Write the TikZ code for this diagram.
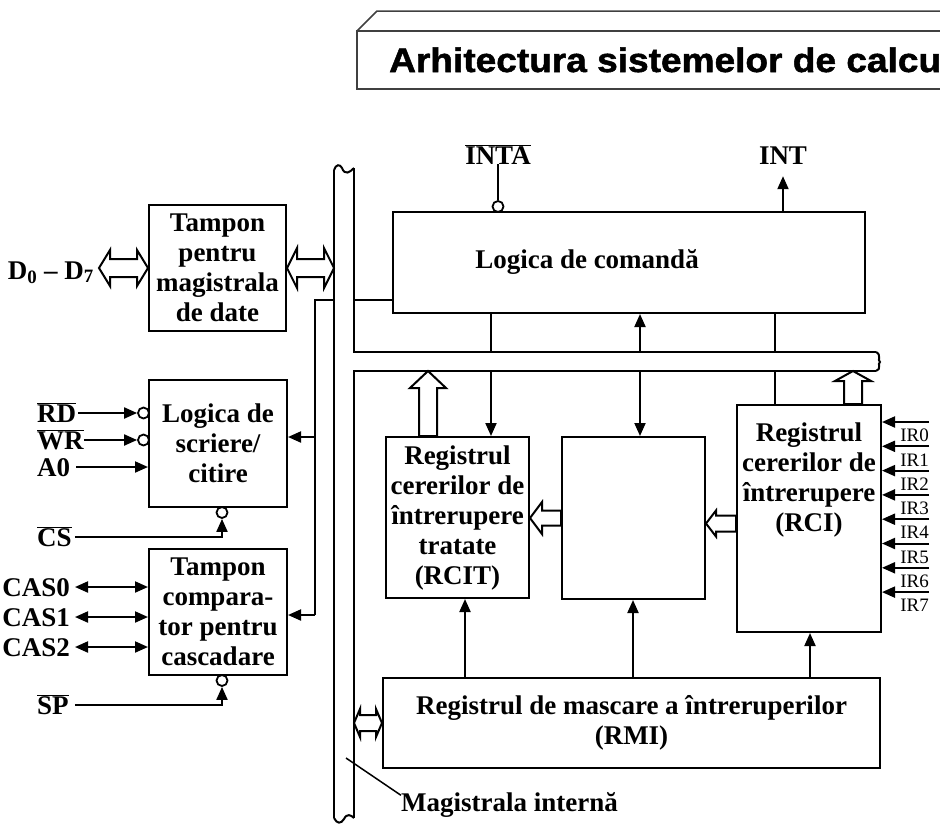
\documentclass[tikz,border=0pt]{standalone}
\usepackage{fontspec}
\setmainfont{Liberation Serif}
\newfontfamily\hdrfont[FakeStretch=1.09, FakeBold=1.5]{Liberation Sans}
\usetikzlibrary{arrows.meta, calc, positioning}

\newcommand\blkfont{\fontsize{27}{30}\selectfont\bfseries}
\newcommand\irfont{\fontsize{19}{19}\selectfont}
\newcommand\ovl[1]{$\overline{\mbox{#1}}$}

% sageti late (contur)
\newcommand\dblopen[5]{\draw[hollow] (#1) -- ($(#1)+(#5,-#4)$) -- ($(#1)+(#5,-#3)$) -- ($(#2)+(-#5,-#3)$) -- ($(#2)+(-#5,-#4)$) -- (#2)
  -- ($(#2)+(-#5,#4)$) -- ($(#2)+(-#5,#3)$) -- ($(#1)+(#5,#3)$) -- ($(#1)+(#5,#4)$) -- cycle;}
\newcommand\hollowleft[5]{\draw[hollow] (#2) -- ($(#2)+(#5,-#4)$) -- ($(#2)+(#5,-#3)$) -- ($(#1)+(0,-#3)$) -- ($(#1)+(0,#3)$)
  -- ($(#2)+(#5,#3)$) -- ($(#2)+(#5,#4)$) -- cycle;}
\newcommand\hollowup[5]{\draw[hollow] (#2) -- ($(#2)+(#4,#5)$) -- ($(#2)+(#3,#5)$) -- ($(#1)+(#3,0)$) -- ($(#1)+(-#3,0)$)
  -- ($(#2)+(-#3,#5)$) -- ($(#2)+(-#4,#5)$) -- cycle;}

\tikzset{
  blk/.style={draw, line width=2pt, inner sep=0pt, align=center, font=\blkfont},
  lbl/.style={inner sep=0pt, font=\blkfont, align=center},
  sig/.style={inner sep=0pt, font=\blkfont, text height=18pt, text depth=0pt},
  wire/.style={line width=2pt},
  tip/.style={-{Triangle[length=13pt,width=11pt]}},
  tips/.style={{Triangle[length=13pt,width=11pt]}-{Triangle[length=13pt,width=11pt]}},
  neg/.style={circle, draw, fill=white, line width=1.8pt, minimum size=11pt, inner sep=0pt},
  hollow/.style={draw, line width=2pt, line join=miter},
}

\begin{document}
\begin{tikzpicture}[x=1pt, y=-1pt]
  \useasboundingbox (0,0) rectangle (940,823);
  \clip (0,0) rectangle (940,823);

  % antet
  \draw[line width=1.5pt, black!75] (357,31) -- (377,11) -- (950,11);
  \draw[line width=1.5pt, black!75] (950,31) -- (357,31) -- (357,89) -- (950,89);
  \node[anchor=base west, inner sep=0pt, font=\hdrfont\bfseries\fontsize{34}{34}\selectfont] (titlu) at (389,72) {Arhitectura sistemelor de calcu};

  % magistrala interna
  \coordinate (busL) at (334,300);
  \coordinate (busR) at (354,300);
  \coordinate (hT) at (354,352);
  \coordinate (hB) at (354,371);
  \draw[wire] (334,170) -- (334,818);
  \draw[wire] (354,168) -- (hT) -- (876,352);
  \draw[wire] (876,371) -- (hB) -- (354,818);
  \draw[wire] (334,170) .. controls (336,164) and (340,164) .. (342,168) .. controls (345,176) and (350,172) .. (354,168);
  \draw[wire] (334,818) .. controls (337,824) and (341,824) .. (344,819) .. controls (347,813) and (351,815) .. (354,818);
  \draw[wire] (876,352) .. controls (882,355) and (877,360) .. (880,362) .. controls (877,364) and (882,369) .. (876,371);

  % blocuri
  \node[blk, minimum width=137pt, minimum height=126pt] (tpd) at (217.5,268) {Tampon\\pentru\\magistrala\\de date};
  \node[blk, minimum width=138pt, minimum height=127pt] (lsc) at (218,443.5) {Logica de\\scriere/\\citire};
  \node[blk, minimum width=138pt, minimum height=126pt] (tcc) at (218,612) {Tampon\\compara-\\tor pentru\\cascadare};
  \node[blk, minimum width=472pt, minimum height=101pt] (lcm) at (629,262.5) {};
  \node[lbl] (lcmtext) at (587,262) {Logica de comandă};
  \node[blk, minimum width=143pt, minimum height=161pt] (rcit) at (457.5,517.5) {Registrul\\cererilor de\\întrerupere\\tratate\\(RCIT)};
  \node[blk, minimum width=143pt, minimum height=162pt] (mid) at (633.5,518) {};
  \node[blk, minimum width=144pt, minimum height=227pt] (rci) at (809,518.5) {};
  \node[lbl] (rcitext) at (809,480) {Registrul\\cererilor de\\întrerupere\\(RCI)};
  \node[blk, minimum width=497pt, minimum height=90pt] (rmi) at (631.5,723) {Registrul de mascare a întreruperilor\\(RMI)};

  % semnale din stanga
  \node[sig, anchor=east] (d07) at (94,270) {D\textsubscript{0} – D\textsubscript{7}};
  \coordinate (d07a) at (99,268);
  \dblopen{d07a}{tpd.west}{9}{18}{11}
  \coordinate (tpdbus) at (tpd.east -| busL);
  \dblopen{tpd.east}{tpdbus}{9}{20}{10}

  \node[sig, anchor=west] (rd) at (37,413) {\ovl{RD}};
  \node[sig, anchor=west] (wr) at (37,440) {\ovl{WR}};
  \node[sig, anchor=west] (a0) at (37,467) {A0};
  \node[neg] (rdn) at (143.5,413) {};
  \node[neg] (wrn) at (143.5,440) {};
  \draw[wire, tip] ([xshift=2pt]rd.east) -- (rdn.west);
  \draw[wire, tip] (wr.east) -- (wrn.west);
  \draw[wire, tip] ([xshift=6pt]a0.east) -- (a0 -| lsc.west);

  \node[sig, anchor=west] (cs) at (37,537) {\ovl{CS}};
  \node[neg] (csn) at (222,512.5) {};
  \draw[wire, tip] ([xshift=3pt]cs.east) -| (csn.south);

  \foreach \k/\yy in {0/587, 1/617, 2/647}{
    \node[sig, anchor=east] (cas\k) at (70,\yy) {CAS\k};
    \draw[wire, tips] ([xshift=5pt]cas\k.east) -- (cas\k -| tcc.west);
  }

  \node[sig, anchor=west] (sp) at (37,705) {\ovl{SP}};
  \node[neg] (spn) at (222,680.5) {};
  \draw[wire, tip] ([xshift=6pt]sp.east) -| (spn.south);

  % legaturi cu magistrala
  \coordinate (tap1) at (315,300);
  \coordinate (tap2) at (315,437);
  \coordinate (tap3) at (315,615);
  \draw[wire] (busL) -- (tap1) -- (tap3);
  \draw[wire, tip] (tap2) -- (tap2 -| lsc.east);
  \draw[wire, tip] (tap3) -- (tap3 -| tcc.east);
  \draw[wire] (busR) -- (busR -| lcm.west);
  \coordinate (rmibus) at (rmi.west -| busR);
  \dblopen{rmibus}{rmi.west}{8}{14}{6}

  % INTA, INT
  \node[sig] (inta) at (498,155) {\ovl{INTA}};
  \node[neg] (intan) at (498,206.5) {};
  \draw[wire] (inta.south) -- (intan.north);
  \node[sig] (int) at (783,155) {INT};
  \draw[wire, tip] (lcm.north -| int) -- ([yshift=-12pt]int.south);

  % legaturi interne
  \coordinate (xa) at (491,0);
  \coordinate (xb) at (640,0);
  \coordinate (xc) at (775,0);
  \draw[wire] (xa |- lcm.south) -- (xa |- hT);
  \draw[wire, tip] (xb |- hT) -- (xb |- lcm.south);
  \draw[wire] (xc |- lcm.south) -- (xc |- hT);
  \draw[wire, tip] (xa |- hB) -- (xa |- rcit.north);
  \draw[wire, tip] (xb |- hB) -- (xb |- mid.north);
  \draw[wire] (xc |- hB) -- (xc |- rci.north);

  \coordinate (xd) at (465,0);
  \coordinate (xe) at (633,0);
  \coordinate (xf) at (810,0);
  \draw[wire, tip] (xd |- rmi.north) -- (xd |- rcit.south);
  \draw[wire, tip] (xe |- rmi.north) -- (xe |- mid.south);
  \draw[wire, tip] (xf |- rmi.north) -- (xf |- rci.south);

  \coordinate (ua) at (428,0);
  \coordinate (ub) at (853,0);
  \coordinate (uaT) at (ua |- hB);
  \coordinate (uaB) at (ua |- rcit.north);
  \coordinate (ubT) at (ub |- hB);
  \coordinate (ubB) at (ub |- rci.north);
  \hollowup{uaB}{uaT}{9}{18}{17}
  \hollowup{ubB}{ubT}{9}{18}{10}

  \coordinate (la) at (mid.west -| rcit.east);
  \hollowleft{mid.west}{la}{7.5}{16}{12}
  \coordinate (lbT) at ([yshift=-5pt]rci.west);
  \coordinate (lb) at (lbT -| mid.east);
  \hollowleft{lbT}{lb}{8}{13}{10}

  % cereri de intrerupere
  \foreach \i in {0,...,7}{
    \coordinate (ir\i) at (929,422+24.3*\i);
    \draw[wire, tip] (ir\i) -- (ir\i -| rci.east);
    \node[anchor=north east, inner sep=0pt, font=\irfont] (irl\i) at ([yshift=-7pt]ir\i) {IR\i};
  }

  % eticheta magistralei
  \node[lbl, anchor=west] (magi) at (401,805) {Magistrala internă};
  \coordinate (magp) at (346,758);
  \draw[line width=1.5pt] (magp) -- ([yshift=-3pt]magi.north west);
\end{tikzpicture}
\end{document}
